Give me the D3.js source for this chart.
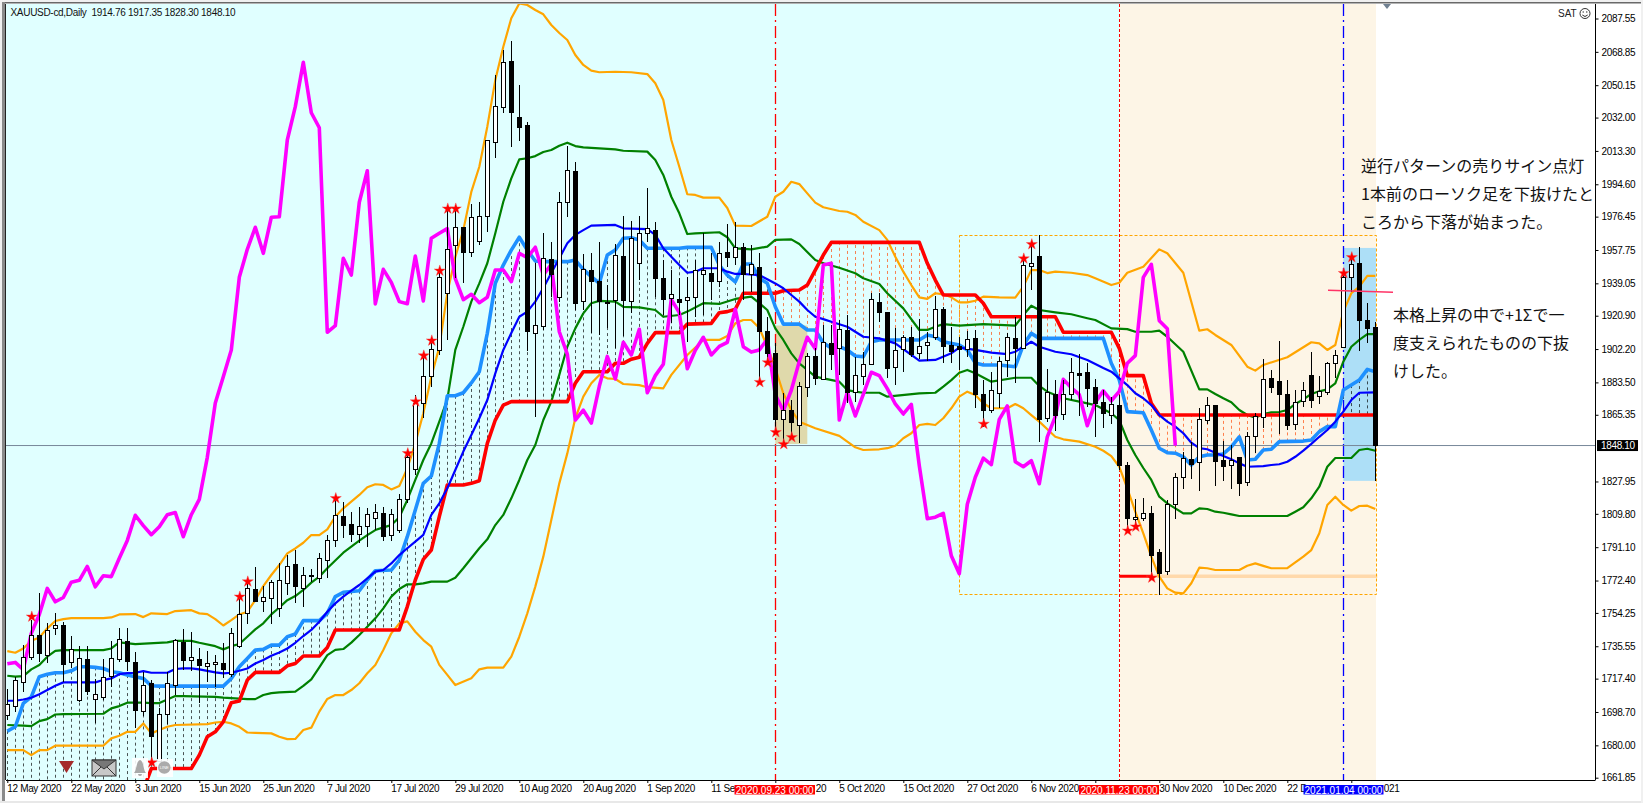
<!DOCTYPE html>
<html><head><meta charset="utf-8">
<script src="https://cdn.jsdelivr.net/npm/d3@7"></script>
<style>
html,body{margin:0;padding:0;background:#fff;overflow:hidden}
svg{display:block}
text{font-family:"Liberation Sans",Arial,sans-serif}
.ax text{font-size:10px;letter-spacing:-0.35px;fill:#000}
.jp{font-family:"Noto Sans CJK JP",sans-serif;font-size:16px;fill:#111}
</style></head><body>
<svg id="c" width="1643" height="803"></svg>
<script>
const title = "XAUUSD-cd,Daily  1914.76 1917.35 1828.30 1848.10";
const priceTicks = [2087.55,2068.85,2050.15,2032.00,2013.30,1994.60,1976.45,1957.75,1939.05,1920.90,1902.20,1883.50,1865.35,1827.95,1809.80,1791.10,1772.40,1754.25,1735.55,1717.40,1698.70,1680.00,1661.85];
// only the part of each date that the time-stamp boxes leave visible is written
const tickLabels = ["12 May 2020","22 May 2020","3 Jun 2020","15 Jun 2020","25 Jun 2020","7 Jul 2020","17 Jul 2020","29 Jul 2020","10 Aug 2020","20 Aug 2020","1 Sep 2020","11 Se","20","5 Oct 2020","15 Oct 2020","27 Oct 2020","6 Nov 2020","","30 Nov 2020","10 Dec 2020","22 D","021"];
const tickBars = [0,8,16,24,32,40,48,56,64,72,80,88,96,104,112,120,128,136,144,152,160,168];
const tickShift = {12:40.5,21:32.5};

const opens = [1696.6,1701.6,1715.3,1729.3,1741.6,1730.4,1745.6,1747.2,1726.5,1705.2,1728.2,1705.8,1706.7,1718.5,1728.2,1738.3,1726.5,1698.8,1714.7,1671,1697.3,1713.6,1737.9,1727.6,1728.2,1724.2,1725.4,1725.9,1719.8,1735.5,1754,1767.4,1760.7,1762.4,1756.8,1770.8,1781.6,
1767.9,1775.5,1773.6,1783.6,1794.8,1808.4,1803.9,1798.1,1802.8,1807.3,1810.1,1797.8,1800.4,1817.9,1834.4,1871.4,1886.7,1901.3,1933.5,1960.2,1970.5,1956.4,1962.6,1976.4,2017.9,2037.8,2063.5,2032.2,2027.7,1911,1915.1,1952.5,1931,1984.5,2002,1928.8,1946.5,1940.4,1928.8,1929.7,1954.4,1928.8,1950.3,1967.1,1968.9,1941.9,1930.4,1930.3,1929.3,1931,1944.1,1944.7,1940,1956.8,1953.6,1959.3,1944.1,1948,1912.3,1899.8,1862.6,1868,1859.2,1880.8,1898.1,1885.2,1905.4,1902.4,1912.9,1877.9,1886.7,1893.8,1928.4,1922.8,1892,1901.8,1908.8,1899.8,1904.1,1908.6,1924.5,1904.3,1903.9,1902.1,1908.2,1876.8,1867.6,1877.4,1895.7,1908.2,1902.6,1948.3,1954.4,1863.4,1877,1865.6,1876.6,1888.8,1889.2,1880.9,1872.5,1865.2,1870.8,1837.2,1806.5,1807.1,1810.1,1788.3,1777.6,1814.9,1830.3,1840.4,1838.7,1862,1870.8,1840,1837,1841.5,1827.5,1853.3,1863.9,1885.8,1884.3,1877,1860,1872.7,1887.6,1875.5,1877.9,1894,1903,1942.2,1950.3,1918.5,1914.76];
const highs = [1711.4,1718.5,1736.2,1750.2,1765.2,1748.4,1754,1749.3,1741.3,1735.7,1735.7,1717,1728.2,1738.5,1745.6,1745.6,1732.1,1721.3,1716.6,1700.7,1721.3,1739.9,1745.2,1743.3,1734.3,1733,1730.6,1737.1,1745.6,1762.4,1771.7,1779.8,1769.3,1772.7,1782,1786.7,1789.5,
1779.8,1778.7,1787.7,1797.9,1818.5,1816.3,1810.8,1813.5,1812.9,1815.3,1813.5,1812.5,1820.9,1843.7,1876.4,1898.5,1906.9,1946.1,1980.9,1980.9,1970.8,1983.5,1984.8,2019.4,2055.9,2069.9,2074.8,2050.3,2029.7,1950.4,1967.3,1962.4,1990.4,2016.2,2006.9,1955.5,1955.9,1962.4,1938.1,1961.1,1976.8,1974.2,1976.8,1992.5,1973.6,1952.1,1946.5,1941.9,1942.6,1952.1,1967.1,1956.1,1962.4,1972.3,1973.6,1961.8,1960.5,1955.9,1920.3,1905.6,1877.7,1873.6,1883.9,1900,1902.6,1915.7,1915.7,1918.5,1921.3,1897.9,1900.7,1933.6,1933.5,1923,1914,1910.1,1914.7,1918.9,1911.9,1931.9,1925.8,1914.7,1909.1,1912.5,1912.9,1884.8,1889.5,1897.9,1911,1920.3,1952.1,1961.7,1966.2,1891,1884.8,1884.8,1897,1899.4,1894.2,1885.4,1879.2,1875.5,1876.4,1838.7,1818.1,1818.7,1814.2,1790.1,1817.6,1832.5,1844.6,1850.3,1869,1875.5,1870.8,1850.8,1848.4,1841.5,1855.9,1866.2,1896.5,1890.5,1906.9,1884.8,1879.2,1883.9,1900.5,1887.1,1895.1,1901.7,1946.5,1953.3,1959.2,1928.2,1917.35];
const lows = [1694.2,1698.8,1710,1727.8,1726.9,1726.3,1741.8,1715.7,1723.1,1704.4,1708.2,1692.3,1705.4,1712.9,1726.9,1721.8,1689.5,1696.4,1671.7,1671,1691.7,1708.2,1722.2,1721.8,1703.9,1715.7,1712.9,1717.5,1718.5,1734.3,1747.8,1760.5,1754.9,1747.8,1752.1,1764.2,1759.6,
1757.8,1771.8,1770.8,1773.6,1791.4,1796.1,1794.2,1793.3,1791.4,1800.7,1794.8,1794.8,1798.9,1815.7,1831.6,1863.5,1881.1,1898.9,1907.3,1942,1939.4,1954,1960.5,1968,2009.3,2034.4,2015.3,2019,1901.3,1864.1,1912.9,1931.6,1928.8,1976.4,1924.1,1924.1,1911.4,1910.1,1914,1902.8,1909.5,1922.6,1940.9,1962.4,1931.4,1921.3,1916.8,1921.3,1906.3,1920.3,1921.3,1929.7,1937,1948.3,1949.3,1929.7,1934.4,1884.9,1893.3,1856.8,1849.5,1854,1849.4,1875.5,1882,1884.8,1890.5,1887.7,1871.9,1872.7,1882,1893.8,1917.2,1886,1882,1889.5,1897.9,1896.5,1895.7,1907.3,1894.2,1894.4,1890.5,1897.9,1869,1858.7,1866.2,1869,1886.7,1883,1902.6,1935.3,1850.3,1861.5,1856.4,1862.4,1873.6,1864.7,1869.9,1852.7,1857.9,1860.2,1834.4,1800.7,1801.9,1806,1772.7,1764.3,1775.5,1807.1,1823.9,1829.3,1822.8,1860.2,1825.4,1828.2,1823.7,1819.8,1825.6,1843.8,1857.9,1877.7,1854.6,1856.8,1856.8,1869.9,1869,1871.4,1876.4,1885.9,1902.8,1934.4,1901.3,1905.4,1828.30];
const closes = [1702.9,1716.4,1729.3,1741.4,1731.4,1744.4,1747.2,1725.2,1733.8,1728.7,1710,1708.5,1718.1,1728.7,1739.4,1726.9,1699.4,1713.6,1684.8,1697.3,1714.7,1738.6,1727.4,1729.3,1724.6,1725.7,1726.5,1722.4,1742.8,1753.4,1768,1760.5,1762.9,1771.5,1772.5,1780.3,1768.9,
1775.1,1774.6,1784.9,1794.9,1809,1803.2,1798.1,1802.6,1809.3,1810.5,1797,1809.3,1817.9,1841.5,1871.9,1886.7,1901.7,1942.4,1958.1,1970.5,1955.9,1976.1,1976.4,2019.4,2038.1,2063,2034.7,2026.3,1911.6,1915.3,1953.1,1943.7,1984.5,2002.2,1927.5,1946.9,1939.6,1928.8,1927.6,1954.4,1929.2,1964.3,1967.1,1969.7,1941.7,1929.9,1932.9,1928.2,1931.2,1946.5,1946.5,1940,1955.9,1953.4,1959.3,1943.7,1949.7,1911.9,1899.4,1862.4,1867.9,1860.7,1881.3,1898.1,1885.4,1906,1898.9,1913.3,1877.7,1887.3,1893.7,1930.1,1922.6,1891.2,1901.5,1908.8,1898.9,1903.7,1906,1924.5,1903.5,1900.5,1901.7,1907.7,1876.6,1867.6,1879.1,1895.3,1908.8,1902.4,1949.3,1950.3,1862.4,1878,1864.7,1876.8,1889.2,1887.3,1880,1871.4,1865.8,1871.2,1836.8,1807.1,1807.9,1810.1,1786.3,1776.2,1815.2,1830.3,1841,1837.4,1862.8,1870.3,1839,1836.2,1839.6,1826.7,1853,1864.3,1885.2,1880.5,1876.6,1859.2,1872.3,1878.8,1873.2,1878.5,1894.2,1898.5,1942.4,1949.7,1918.1,1913.6,1848.10];

const upper2 = [[0,1732.8],[1,1731.9],[2,1734.3],[3,1738.6],[4,1740.5],[5,1745.6],[6,1749.7],[7,1750.8],[8,1751.3],[12,1751.3],[13,1751.7],[14,1753.4],[16,1753.6],[17,1751.9],[18,1754],[20,1753.6],[21,1755.3],[23,1755.8],[24,1754],[25,1753.6],[26,1750.8],[27,1747.2],[28,1750.2],[29,1753.4],[30,1754.9],[31,1761.4],[32,1769.3],[33,1775.5],[34,1781.1],[35,1787.6],[36,1790.4],[37,1793.6],[38,1797.9],[39,1797.9],[40,1801.1],[41,1808.2],[42,1812.9],[43,1816.6],[44,1820.4],[45,1824.7],[46,1826.4],[47,1826],[48,1823.5],[49,1825.4],[50,1835.3],[51,1849.3],[52,1866.2],[53,1886.7],[54,1903.3],[55,1933.6],[56,1953.8],[57,1968.9],[58,1990.3],[59,2004.4],[60,2026.9],[61,2053],[62,2071.7],[63,2087.7],[64,2096],[65,2095.1],[66,2092.3],[67,2089.9],[68,2083.9],[69,2079.4],[70,2075.5],[71,2067.1],[72,2061.5],[73,2058.3],[74,2057.4],[76,2057.7],[78,2057.4],[80,2056.4],[81,2051.2],[82,2041.9],[83,2019.4],[84,2004.4],[85,1989],[86,1988.6],[87,1987.1],[89,1987.1],[90,1981.3],[91,1971.4],[93,1971.2],[95,1976.4],[96,1987.6],[97,1990.4],[98,1996],[99,1994.7],[100,1989.5],[101,1984.3],[102,1981.7],[104,1979.6],[105,1979.2],[106,1977.4],[107,1973.6],[109,1968.9],[110,1963.4],[111,1954],[112,1945.6],[113,1938.1],[114,1931.2],[115,1930.3],[116,1933.5],[117,1932.9],[118,1931.2],[119,1928.4],[120,1928.4],[121,1929.3],[122,1931.6],[124,1931.2],[126,1931],[127,1937.2],[128,1946.5],[129,1946.5],[130,1944.8],[131,1945.6],[133,1945],[135,1943.7],[136,1941.9],[138,1938.1],[139,1939.4],[140,1945],[142,1948.4],[144,1958.1],[145,1955.9],[147,1945],[149,1912.5],[150,1913.3],[151,1910.1],[153,1904.5],[155,1892.3],[156,1890.1],[157,1893.3],[160,1897.6],[163,1906],[164,1905.4],[165,1901.7],[166,1904.5],[167,1923.2],[168,1933.5],[169,1937.2],[170,1943.2],[171,1943.2]];
const upper1 = [[0,1719],[1,1718.5],[2,1718.8],[3,1722.6],[4,1725],[5,1729.7],[6,1733],[7,1733.4],[12,1733.4],[13,1734.3],[14,1737.7],[16,1736.8],[20,1737.7],[21,1738.6],[23,1738.6],[24,1737.5],[26,1735.6],[27,1733.8],[28,1735.6],[29,1736.8],[30,1740.9],[31,1745],[32,1748.4],[33,1753.4],[34,1757.3],[35,1761.4],[36,1763.7],[37,1767.1],[38,1771.2],[39,1774.6],[40,1779.3],[41,1783.6],[42,1788],[43,1791.4],[44,1794.8],[45,1797.9],[46,1800.7],[47,1802.2],[48,1803.5],[49,1807.8],[50,1817.6],[51,1828.8],[52,1840],[53,1849.3],[54,1861.5],[55,1874],[56,1901.7],[57,1914.7],[58,1928.8],[59,1939],[60,1950.3],[61,1967.1],[62,1984.8],[63,1997.9],[64,2008.6],[65,2009.2],[66,2010.4],[67,2012.7],[68,2013.8],[69,2016.2],[70,2017.9],[71,2016],[72,2015.3],[76,2014.2],[77,2013.4],[80,2012.9],[81,2008.2],[82,1999.8],[83,1987.6],[84,1978.3],[85,1966.7],[86,1967.1],[89,1967.7],[90,1964.9],[91,1958.7],[93,1958.1],[95,1959.6],[96,1963.4],[98,1963.7],[99,1961.1],[101,1952.1],[102,1950.3],[104,1947.8],[106,1944.7],[107,1941.9],[109,1938.7],[110,1933.5],[112,1925],[114,1912.9],[115,1912.9],[116,1914.7],[117,1916.2],[119,1915.3],[122,1916.2],[126,1915.3],[127,1921.3],[128,1926.5],[129,1924.1],[131,1922.8],[133,1921.7],[135,1919.5],[136,1918.5],[138,1913.8],[140,1913.4],[141,1911.9],[143,1911.9],[144,1912.5],[145,1909.1],[147,1900.7],[149,1879.6],[150,1879.6],[151,1877],[152,1874.6],[153,1872.4],[154,1868],[155,1865.2],[156,1863.7],[157,1865.8],[158,1866.7],[159,1866.9],[160,1868],[161,1871.4],[162,1874],[163,1877],[164,1878.5],[165,1879.6],[166,1883],[167,1895.1],[168,1903.5],[169,1907.3],[170,1910.6],[171,1910.6]];
const movingAvg = [[0,1705],[1,1705],[2,1705.7],[3,1706.7],[4,1708.7],[5,1711],[6,1713.4],[7,1715.3],[11,1715.3],[12,1716.6],[13,1717.5],[14,1719.9],[15,1720.5],[16,1720.7],[17,1721.6],[18,1720.7],[20,1720.7],[21,1722.8],[22,1723.1],[23,1723.1],[24,1722.6],[26,1720.9],[27,1720.3],[28,1720.7],[29,1721.8],[30,1723.1],[31,1725.9],[32,1727.8],[33,1730.2],[34,1732.1],[35,1734.3],[36,1737.5],[37,1741.3],[38,1744.7],[39,1749.3],[40,1754.9],[41,1759.6],[42,1763.4],[43,1766.7],[44,1769.9],[45,1773.6],[46,1777.4],[47,1778.3],[48,1782],[49,1786.7],[50,1790.5],[51,1794.2],[52,1798],[53,1809.2],[54,1815.7],[55,1824.1],[56,1834.4],[57,1844.7],[58,1854],[59,1863.4],[60,1873.6],[61,1888.6],[62,1901.7],[63,1911.2],[64,1920.3],[65,1923.2],[66,1928.8],[67,1936.4],[68,1944.8],[69,1953.1],[70,1961.5],[71,1966.2],[72,1968.9],[73,1971.4],[76,1971.8],[77,1969.9],[80,1969.5],[81,1966.2],[82,1958.7],[83,1954],[84,1949.3],[85,1945],[86,1945.6],[87,1947.5],[89,1947.5],[90,1945.6],[91,1944.3],[92,1944.3],[94,1943.7],[95,1941.3],[96,1939],[97,1936.3],[98,1932.5],[99,1928.8],[100,1924.1],[101,1920.3],[102,1919],[103,1917.5],[105,1914.7],[106,1911.9],[107,1909.1],[109,1908.2],[111,1905.4],[113,1898.9],[114,1895.7],[116,1896.1],[118,1899.8],[119,1903],[121,1901.7],[123,1900.2],[125,1899.4],[126,1900.7],[127,1903.5],[128,1906.3],[129,1903.5],[131,1900.7],[133,1899.3],[135,1896.1],[137,1891.6],[138,1889.5],[139,1885.8],[140,1882],[141,1877.4],[142,1874.6],[143,1870.8],[144,1865.2],[145,1861.5],[146,1858.7],[147,1855],[148,1849.7],[149,1846.6],[150,1846],[151,1844.1],[152,1842.2],[153,1840.4],[154,1838.1],[155,1836.2],[157,1836.6],[158,1837.2],[159,1837.6],[160,1839],[161,1841.8],[162,1845.2],[163,1849],[164,1853],[165,1856.8],[166,1861.5],[167,1867.1],[168,1873.6],[169,1877.7],[171,1877.9]];
const baseLine = [[0,1688],[1,1690.4],[2,1703.5],[3,1707.2],[4,1718.5],[5,1719.8],[6,1720.7],[7,1720.7],[8,1721.8],[9,1724.1],[10,1724.1],[11,1723.7],[12,1723.1],[13,1721.3],[14,1720.7],[15,1719.4],[16,1718.5],[17,1717.5],[18,1713.4],[19,1713.2],[27,1713.2],[28,1717.5],[29,1724.1],[30,1728.7],[31,1733.4],[32,1733.8],[33,1736.2],[34,1736.2],[35,1740.9],[36,1742.4],[37,1749.9],[39,1749.9],[40,1754],[41,1763.4],[42,1765.8],[44,1766.7],[45,1772.7],[46,1777.9],[48,1778.3],[49,1783.9],[50,1797],[51,1812],[52,1826.9],[53,1831],[54,1849.3],[55,1876],[56,1876],[57,1877.7],[58,1883.2],[59,1889.5],[60,1911],[61,1939.1],[62,1949.3],[63,1957.7],[64,1964.9],[65,1957.7],[66,1951.6],[67,1951.2],[70,1951.2],[71,1952.1],[72,1946.9],[73,1942.8],[74,1939.1],[75,1954.9],[76,1957.7],[77,1964.3],[78,1964.6],[79,1963.4],[80,1958.7],[84,1958.7],[85,1959.2],[88,1959.2],[89,1949.3],[90,1943.7],[91,1939.9],[92,1949.9],[93,1949.9],[94,1941.9],[95,1939.1],[96,1925.9],[97,1916.2],[99,1916.2],[100,1912.9],[101,1912.9],[102,1905.6],[103,1902.8],[104,1903.5],[105,1901.7],[106,1898.3],[107,1897.9],[108,1906.3],[109,1907.3],[114,1907.3],[115,1910.1],[116,1909.1],[117,1906.3],[119,1904.5],[120,1901.7],[121,1894.4],[122,1893.3],[124,1893.3],[126,1892.3],[127,1904.5],[128,1911],[129,1908.2],[137,1908.2],[138,1894.2],[139,1884.8],[140,1867.1],[142,1866.5],[143,1856.8],[144,1846.6],[145,1844.1],[146,1843.8],[147,1841.8],[148,1837.2],[149,1841.8],[150,1842.8],[151,1842.8],[152,1843.4],[153,1847.4],[154,1853],[155,1840],[156,1840.4],[157,1845.6],[158,1846],[159,1850.3],[162,1850.6],[163,1851.2],[164,1855.9],[165,1858.7],[166,1858.7],[167,1879.2],[168,1882],[169,1884.8],[170,1890.8],[171,1889.5]];
const signalLine = [[0,1640],[16,1640],[17,1655],[18,1667],[23,1667],[24,1674.5],[25,1684.8],[26,1687.6],[27,1693.2],[28,1703.9],[29,1704.8],[30,1716.6],[31,1720.9],[34,1720.9],[35,1724.6],[36,1725.9],[37,1730.1],[39,1730.1],[40,1734.9],[41,1744.7],[49,1744.7],[50,1757.8],[51,1772.7],[52,1784.3],[53,1789.5],[54,1808.2],[55,1826],[57,1826],[58,1826.9],[59,1828.4],[60,1849.3],[61,1862.4],[62,1870.8],[63,1872.7],[70,1872.7],[71,1883],[72,1889.5],[75,1889.5],[76,1894.2],[77,1894.2],[78,1896.5],[79,1897.6],[80,1905.4],[81,1911.4],[84,1911.4],[85,1916.2],[88,1916.6],[89,1922.6],[90,1923.2],[91,1924.5],[92,1933.5],[96,1933.5],[97,1934.9],[99,1935.3],[100,1938.1],[101,1946.5],[102,1954.9],[103,1962],[114,1962],[115,1950.3],[116,1940.9],[117,1932.5],[121,1932.5],[122,1927.9],[123,1920.3],[131,1920.3],[132,1911.6],[138,1911.6],[139,1902.6],[140,1887.3],[142,1887.3],[143,1871.8],[144,1865.2],[171,1865.2]];
const lower1 = [[0,1691.4],[2,1691],[3,1690.8],[4,1693.6],[5,1694.7],[6,1697.3],[7,1697.5],[12,1697.7],[13,1700.7],[14,1702],[15,1703.9],[17,1703.9],[18,1703.7],[19,1703.7],[20,1705.7],[21,1707.6],[22,1707.6],[26,1707.2],[27,1706.7],[30,1705.9],[31,1705.9],[32,1708.2],[33,1709.3],[34,1709.7],[36,1710.1],[37,1713.3],[38,1717],[39,1723.7],[40,1730.6],[41,1733.5],[42,1734],[43,1737.6],[44,1741.9],[45,1746.5],[46,1751.2],[47,1756.8],[48,1763.4],[49,1767.7],[50,1770.3],[51,1770.3],[52,1770.8],[53,1771.8],[55,1771.8],[56,1774],[57,1779.3],[59,1790.5],[60,1795.5],[61,1803.5],[62,1809.2],[63,1818.5],[64,1828.8],[65,1840],[66,1848.4],[67,1862.4],[68,1872.7],[69,1887.7],[70,1903.5],[71,1913.8],[72,1922.2],[73,1927.9],[74,1929.2],[76,1928.8],[77,1925.9],[79,1925.6],[81,1924.1],[82,1920.3],[84,1921.3],[85,1923.2],[87,1927.9],[89,1927.5],[91,1930.3],[93,1931.6],[94,1927.9],[95,1924.1],[96,1913.8],[97,1907.3],[98,1899.8],[99,1894.2],[100,1890.5],[101,1886.7],[102,1885.8],[104,1883.9],[105,1879.2],[106,1878.3],[107,1877.7],[109,1877.7],[110,1875.5],[114,1877.4],[116,1877.7],[117,1881.1],[118,1884.8],[119,1888.9],[120,1890.5],[121,1888.6],[123,1883.9],[126,1886.1],[128,1886.1],[129,1881.5],[130,1878.3],[132,1874.6],[134,1872.7],[136,1870.8],[138,1866.2],[139,1862.4],[140,1851.2],[141,1842.8],[142,1835.5],[143,1828.8],[144,1819.4],[145,1815.7],[146,1812.9],[147,1810.1],[148,1810.1],[149,1812.9],[150,1812.5],[151,1811],[152,1810.4],[153,1809.5],[154,1808.6],[160,1808.6],[161,1811],[162,1813.5],[163,1818.5],[164,1825],[165,1836.2],[166,1841.1],[168,1841.1],[169,1845.6],[170,1846.3],[171,1845.2]];
const lower2 = [[0,1677.3],[2,1677.3],[3,1674.5],[4,1677.3],[5,1677.3],[6,1679.8],[12,1679.8],[13,1683.9],[14,1685.4],[15,1687.6],[16,1687.6],[17,1692.3],[18,1686.7],[19,1688.6],[20,1690.4],[21,1691.4],[25,1691.9],[26,1692.8],[27,1693.2],[28,1692.3],[29,1690.4],[30,1687.2],[31,1687],[33,1686.7],[34,1684.8],[35,1683.5],[36,1683.6],[37,1688.6],[38,1689.9],[39,1698.9],[40,1706],[41,1708.2],[42,1708.2],[43,1711],[44,1714.8],[45,1720.4],[46,1725.1],[47,1733.5],[48,1742.8],[49,1748.4],[50,1749.5],[51,1743.7],[52,1739],[53,1735.3],[54,1725.1],[55,1719.5],[56,1713.8],[58,1717.6],[59,1722.6],[60,1723.6],[62,1723.6],[63,1729.7],[64,1740.9],[65,1754],[66,1769],[67,1785.8],[68,1806.4],[69,1826.9],[70,1843.7],[71,1863.4],[72,1875.5],[73,1883],[74,1887.7],[75,1885.8],[76,1885.4],[77,1882.6],[79,1882],[80,1880.8],[82,1880.2],[83,1887.7],[85,1898.9],[87,1907.3],[89,1907.3],[90,1909.5],[91,1916.6],[92,1918.5],[93,1918.5],[94,1914],[95,1903.5],[96,1891.6],[97,1877.4],[98,1868],[99,1861.5],[100,1859.6],[101,1857.8],[104,1853.5],[105,1850.3],[106,1847.1],[107,1845.6],[109,1846],[110,1846.6],[111,1848],[112,1852.2],[113,1855],[114,1859.6],[115,1860.2],[116,1859.6],[117,1863.4],[118,1869],[119,1875.5],[120,1878.3],[121,1876.4],[122,1871.8],[123,1869],[125,1869],[126,1871.4],[127,1869],[128,1865.2],[129,1861.5],[131,1853],[132,1851.6],[134,1850.3],[136,1847.4],[137,1845.2],[138,1842.2],[139,1836.2],[140,1824.1],[141,1811],[142,1798.9],[143,1785.8],[144,1774.6],[145,1768],[146,1765.6],[147,1765.2],[148,1770.9],[149,1779.6],[150,1779.3],[151,1778.3],[154,1778.3],[155,1780.7],[156,1782],[157,1780.6],[158,1779.3],[160,1779.3],[161,1782.6],[162,1785.8],[163,1789.5],[164,1798.9],[165,1814.8],[166,1819.4],[167,1814.8],[168,1811.6],[169,1814.2],[170,1814.4],[171,1812.5]];
const laggingShift = 25;
const starBars = [3,18,29,30,41,50,51,52,53,54,55,56,94,95,96,97,98,122,127,128,140,141,143,167,168];
const starPrices = [1752.1,1670.3,1763.3,1771.8,1818.5,1843.7,1872.7,1898.5,1906.9,1946.1,1980.9,1980.9,1883.6,1894.6,1855.5,1848.8,1852.7,1860.2,1952.9,1960.9,1800.3,1802.6,1774,1944.7,1953.6];
const lastPrice = 1848.10;
const eventLines = [{bar:96,label:"2020.09.23 00:00",color:"#ff0000",dash:"12,4,2,4",w:1.3,lx:734.5,lw:80.5},{bar:139,label:"2020.11.23 00:00",color:"#ff0000",dash:"3,2",w:1,lx:1079,lw:80},{bar:167,label:"2021.01.04 00:00",color:"#0000ff",dash:"12,4,2,4",w:1.3,lx:1303.5,lw:80}];
const noteTop = ["逆行パターンの売りサイン点灯","1本前のローソク足を下抜けたと","ころから下落が始まった。"];
const noteBottom = ["本格上昇の中で+1Σで一","度支えられたものの下抜","けした。"];

const L=6,R=1595.5,T=4,B=780;
const x=d3.scaleLinear().domain([-0.1625,198.525]).range([L,R]);
const y=d3.scaleLinear().domain([2087.55,1661.85]).range([18.5,777.7]);
const svg=d3.select("#c");
svg.append("rect").attr("width",1643).attr("height",803).attr("fill","#fff");
const defs=svg.append("defs");
defs.append("clipPath").attr("id","plot").append("rect").attr("x",L).attr("y",T).attr("width",R-L).attr("height",B-T);
const g=svg.append("g").attr("clip-path","url(#plot)");
const rect=(x0,y0,x1,y1,f)=>g.append("rect").attr("x",x0).attr("y",y0).attr("width",x1-x0).attr("height",y1-y0).attr("fill",f);
rect(L,T,x(139),B,"#E0FFFF");
rect(x(139),T,x(171)+0.7,B,"#FDF5E6");
rect(x(96),y(1915.4),x(100),y(1849),"#DFD9AB");
rect(x(167),y(1958.9),x(171)+0.7,y(1828.3),"#ADDFF7");

// hatch between base line and signal line
const interp=a=>d3.scaleLinear().domain(a.map(d=>d[0])).range(a.map(d=>d[1]));
const fBase=interp(baseLine),fSig=interp(signalLine);
g.append("g").selectAll("line").data(d3.range(0,172)).join("line")
 .attr("x1",d=>Math.round(x(d))+0.5).attr("x2",d=>Math.round(x(d))+0.5)
 .attr("y1",d=>y(fBase(d))).attr("y2",d=>y(fSig(d)))
 .attr("stroke",d=>fBase(d)>=fSig(d)?"#000":"#FF4500").attr("stroke-width",0.8).attr("stroke-opacity",0.85).attr("stroke-dasharray","3,3");

// horizontal level and rectangle
g.append("line").attr("x1",x(139)).attr("x2",x(143)).attr("y1",y(1774.8)).attr("y2",y(1774.8)).attr("stroke","#f00").attr("stroke-width",3);
g.append("line").attr("x1",x(143)).attr("x2",x(171)+2).attr("y1",y(1774.8)).attr("y2",y(1774.8)).attr("stroke","#FFD9AB").attr("stroke-width",3.4);
g.append("rect").attr("x",Math.round(x(119))+0.5).attr("y",Math.round(y(1966))+0.5).attr("width",x(171)-x(119)+1).attr("height",y(1764.7)-y(1966))
 .attr("fill","none").attr("stroke","#FFA500").attr("stroke-width",1).attr("stroke-dasharray","3,2");

// event verticals
eventLines.forEach(e=>{g.append("line").attr("x1",Math.round(x(e.bar))+0.5).attr("x2",Math.round(x(e.bar))+0.5).attr("y1",T).attr("y2",B)
 .attr("stroke",e.color).attr("stroke-width",e.w).attr("stroke-dasharray",e.dash);});

// current price line
g.append("line").attr("x1",L).attr("x2",R).attr("y1",y(lastPrice)).attr("y2",y(lastPrice)).attr("stroke","#778899").attr("stroke-width",1);

const line=d3.line().x(d=>x(d[0])).y(d=>y(d[1])).curve(d3.curveLinear);
const draw=(a,c,w)=>g.append("path").attr("d",line(a)).attr("fill","none").attr("stroke",c).attr("stroke-width",w).attr("stroke-linejoin","round");
draw(upper2,"#FFA500",2.2);
draw(lower2,"#FFA500",2.2);
draw(upper1,"#008000",2.2);
draw(lower1,"#008000",2.2);
draw(signalLine,"#FF0000",3.6);
draw(baseLine,"#1E90FF",3.6);
draw(movingAvg,"#0000FF",2.2);
const lagging=closes.slice(laggingShift).map((v,i)=>[i,v]);
draw(lagging,"#FF00FF",3.6);

// candles
const bars=d3.range(0,opens.length);
const cg=g.append("g").attr("shape-rendering","crispEdges");
cg.selectAll("line").data(bars).join("line")
 .attr("x1",d=>Math.round(x(d))+0.5).attr("x2",d=>Math.round(x(d))+0.5)
 .attr("y1",d=>y(highs[d])).attr("y2",d=>y(lows[d])).attr("stroke","#000");
cg.selectAll("rect").data(bars).join("rect")
 .attr("x",d=>Math.round(x(d))+(closes[d]>=opens[d]?-1.5:-2))
 .attr("width",d=>closes[d]>=opens[d]?4:5)
 .attr("y",d=>y(Math.max(opens[d],closes[d])))
 .attr("height",d=>Math.max(1,Math.abs(y(opens[d])-y(closes[d]))))
 .attr("fill",d=>closes[d]>=opens[d]?"#fff":"#000").attr("stroke",d=>closes[d]>=opens[d]?"#000":"none");

// stars
const star=d3.symbol(d3.symbolStar,38);
g.append("g").selectAll("path").data(starBars).join("path")
 .attr("d",star).attr("transform",(d,i)=>`translate(${x(d)+0.5},${y(starPrices[i])})`)
 .attr("fill","#FF0000").attr("stroke","#F44").attr("stroke-width",0.4);

// trend line
g.append("line").attr("x1",1328).attr("y1",y(1935.2)).attr("x2",1393).attr("y2",y(1934.1)).attr("stroke","#FF3366").attr("stroke-width",1.5);

// icons
const ic=svg.append("g");
ic.append("path").attr("d","M59,761 L74,761 L66.5,773 Z").attr("fill","#A52A2A");
ic.append("rect").attr("x",92).attr("y",760).attr("width",24).attr("height",16).attr("fill","#C8C8C8").attr("stroke","#333").attr("stroke-width",1);
ic.append("path").attr("d","M92,760 L104,769 L116,760 Z").attr("fill","#777").attr("stroke","#333");
ic.append("path").attr("d","M92,776 L101,767 M116,776 L107,767").attr("stroke","#333").attr("fill","none");
ic.append("rect").attr("x",132).attr("y",758).attr("width",16).attr("height",20).attr("fill","#fff").attr("opacity",0.9);
ic.append("path").attr("d","M134,773 C137,770 136,761 140,760 C144,761 143,770 146,773 Z M138,774 A2,2 0 0 0 142,774 Z").attr("fill","#A9A9A9");
ic.append("rect").attr("x",157).attr("y",759).attr("width",16).attr("height",18).attr("fill","#fff").attr("opacity",0.9);
ic.append("circle").attr("cx",164.3).attr("cy",767.5).attr("r",6.2).attr("fill","#ABABAB");
ic.append("text").attr("x",164.3).attr("y",769).attr("text-anchor","middle").attr("font-size",4).attr("fill","#fff").text("LINE");
ic.append("path").attr("d","M1383,4 L1391,4 L1387,9 Z").attr("fill","#708090");

// frame
svg.append("rect").attr("x",0).attr("y",0).attr("width",1643).attr("height",2).attr("fill","#F0F0F0");
svg.append("rect").attr("x",0).attr("y",2).attr("width",1643).attr("height",1.5).attr("fill","#696969");
svg.append("rect").attr("x",0).attr("y",0).attr("width",2).attr("height",803).attr("fill","#F0F0F0");
svg.append("rect").attr("x",2).attr("y",2).attr("width",3).attr("height",799).attr("fill","#8A8A8A");
svg.append("rect").attr("x",0).attr("y",801).attr("width",1643).attr("height",2).attr("fill","#E8E8E8");
svg.append("rect").attr("x",1641).attr("y",0).attr("width",2).attr("height",803).attr("fill","#F0F0F0");
svg.append("line").attr("x1",L-0.5).attr("x2",L-0.5).attr("y1",T).attr("y2",B).attr("stroke","#222");

// axes
const yAxis=d3.axisRight(y).tickValues(priceTicks).tickFormat(d3.format(".2f")).tickSize(3).tickPadding(3);
const ya=svg.append("g").attr("class","ax").attr("transform",`translate(${R},0)`).call(yAxis);
ya.select(".domain").remove();
svg.append("line").attr("x1",R).attr("x2",R).attr("y1",T).attr("y2",B).attr("stroke","#000");
const xAxis=d3.axisBottom(x).tickValues(tickBars).tickFormat((d,i)=>tickLabels[i]).tickSize(3).tickPadding(2);
const xa=svg.append("g").attr("class","ax").attr("transform",`translate(0,${B})`).call(xAxis);
xa.select(".domain").remove();
xa.selectAll("text").attr("text-anchor","start").attr("dx",(d,i)=>(tickShift[i]||0)-0.5);
svg.append("line").attr("x1",L).attr("x2",R).attr("y1",B+0.5).attr("y2",B+0.5).attr("stroke","#000");

// event labels
eventLines.forEach(e=>{
 svg.append("rect").attr("x",e.lx).attr("y",785).attr("width",e.lw).attr("height",9.5).attr("fill",e.color);
 svg.append("text").attr("x",e.lx+e.lw/2).attr("y",793.5).attr("text-anchor","middle").attr("font-size",10).attr("fill","#fff").text(e.label);
});
// last price box
svg.append("rect").attr("x",1597).attr("y",y(lastPrice)-5.5).attr("width",41).attr("height",11).attr("fill","#000");
svg.append("text").attr("x",1601).attr("y",y(lastPrice)+3.5).attr("font-size",10).attr("letter-spacing",-0.35).attr("fill","#fff").text(d3.format(".2f")(lastPrice));

// header
svg.append("text").attr("x",10.5).attr("y",16).attr("font-size",10).attr("letter-spacing",-0.3).attr("style","white-space:pre").attr("fill","#111").text(title);
svg.append("text").attr("x",1558).attr("y",16.5).attr("font-size",10).attr("fill","#222").text("SAT");
svg.append("circle").attr("cx",1585).attr("cy",13.5).attr("r",5).attr("fill","none").attr("stroke","#333");
svg.append("circle").attr("cx",1583.2).attr("cy",12).attr("r",0.7).attr("fill","#333");
svg.append("circle").attr("cx",1586.8).attr("cy",12).attr("r",0.7).attr("fill","#333");
svg.append("path").attr("d","M1582.3,15 Q1585,18 1587.7,15").attr("fill","none").attr("stroke","#333");

// notes
const note=(lines,xp,ys)=>lines.forEach((t,i)=>svg.append("text").attr("class","jp").attr("x",xp).attr("y",ys[i]).text(t));
note(noteTop,1361,[172,200,228]);
note(noteBottom,1393,[321,349,377]);
</script>
</body></html>
